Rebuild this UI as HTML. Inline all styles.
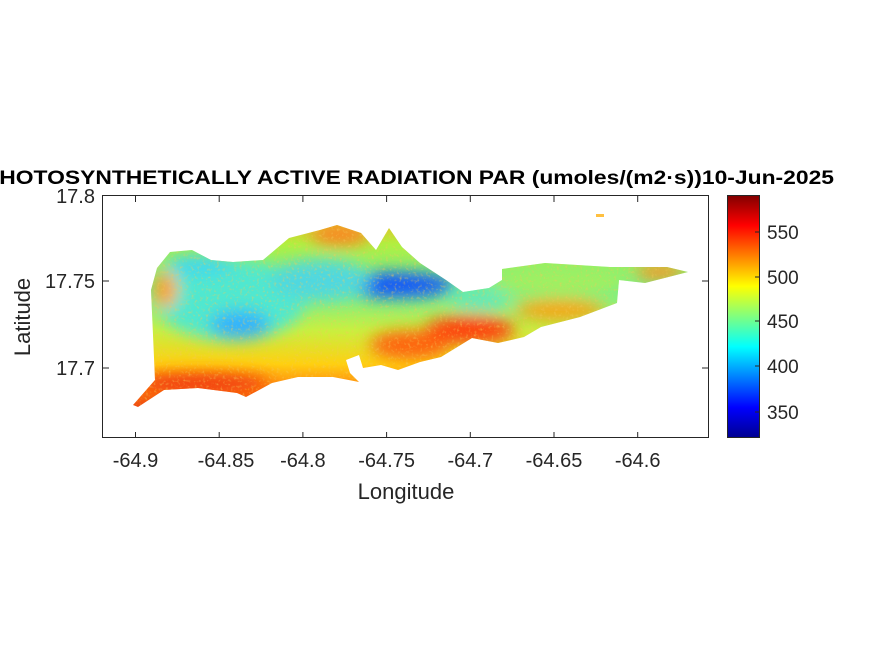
<!DOCTYPE html>
<html><head><style>body{margin:0;background:#fff}svg{display:block}text{font-family:"Liberation Sans",Arial,sans-serif;fill:#262626}</style></head>
<body>
<svg width="875" height="656" viewBox="0 0 875 656">
<defs>
<clipPath id="isl"><polygon points="133,405 155,380 151,290 157,268 170,252 192,250 211,260 233,262 263,260 289,238 320,230 337,225 361,233 376,250 389,228 402,247 420,263 446,280 463,292 489,288 502,280 502,269 545,263 610,267 667,267 688,272 645,283 619,280 617,303 580,317 541,327 524,337 498,343 472,338 441,357 420,362 398,370 381,365 363,368 359,355 346,360 350,373 359,382 333,377 298,377 272,383 246,397 237,393 198,388 164,390 138,407"/></clipPath>
<linearGradient id="cb" x1="0" y1="1" x2="0" y2="0">
<stop offset="0" stop-color="#00008f"/><stop offset="0.125" stop-color="#0000ff"/><stop offset="0.375" stop-color="#00ffff"/><stop offset="0.625" stop-color="#ffff00"/><stop offset="0.875" stop-color="#ff0000"/><stop offset="1" stop-color="#800000"/>
</linearGradient>
<linearGradient id="base" x1="0" y1="0" x2="0" y2="1">
<stop offset="0" stop-color="#e8c020"/><stop offset="0.12" stop-color="#b0f040"/><stop offset="0.35" stop-color="#70f090"/><stop offset="0.55" stop-color="#c8f040"/><stop offset="0.72" stop-color="#ffd010"/><stop offset="0.85" stop-color="#ff8010"/><stop offset="1" stop-color="#e02010"/>
</linearGradient>
<filter id="bl" x="-50%" y="-50%" width="200%" height="200%"><feGaussianBlur stdDeviation="8"/></filter>
<filter id="nz"><feTurbulence type="fractalNoise" baseFrequency="0.35" numOctaves="2" seed="3"/><feColorMatrix type="matrix" values="0 0 0 0 0.9  0 0 0 0 0.6  0 0 0 0 0.1  3 0 0 0 -1.6"/></filter>
</defs>
<g clip-path="url(#isl)">
<rect x="120" y="220" width="580" height="200" fill="url(#base)"/>
<g filter="url(#bl)">
<ellipse cx="230" cy="300" rx="75" ry="40" fill="#50e8d0"/>
<ellipse cx="200" cy="265" rx="35" ry="10" fill="#40d8f0"/>
<ellipse cx="240" cy="325" rx="30" ry="14" fill="#30b0ff"/>
<ellipse cx="395" cy="285" rx="60" ry="12" fill="#1050ff"/>
<ellipse cx="320" cy="280" rx="50" ry="20" fill="#50d8e0"/>
<ellipse cx="560" cy="282" rx="70" ry="14" fill="#a0f060"/>
<ellipse cx="480" cy="300" rx="30" ry="10" fill="#60e8c0"/>
<ellipse cx="470" cy="330" rx="45" ry="14" fill="#ff4010"/>
<ellipse cx="410" cy="345" rx="40" ry="14" fill="#ff6010"/>
<ellipse cx="560" cy="310" rx="45" ry="10" fill="#ffa010"/>
<ellipse cx="200" cy="383" rx="70" ry="9" fill="#f03010"/>
<ellipse cx="165" cy="290" rx="12" ry="18" fill="#ffa020"/>
<ellipse cx="340" cy="235" rx="30" ry="10" fill="#ff8020"/>
<ellipse cx="660" cy="272" rx="25" ry="8" fill="#ff9020"/>
</g>
<rect x="120" y="220" width="580" height="200" filter="url(#nz)" opacity="0.5"/>
</g>
<rect x="596" y="214" width="8" height="3" fill="#ffc040"/>
<rect x="102.5" y="195.5" width="606" height="242" fill="none" stroke="#262626" stroke-width="1"/>
<g stroke="#262626" stroke-width="1">
<path d="M135.5,438v-6M219.2,438v-6M302.9,438v-6M386.6,438v-6M470.3,438v-6M554,438v-6M637.7,438v-6M135.5,196v6M219.2,196v6M302.9,196v6M386.6,196v6M470.3,196v6M554,196v6M637.7,196v6"/>
<path d="M103,281h6M103,368h6M708,281h-6M708,368h-6"/>
</g>
<g font-size="20" text-anchor="middle">
<text x="135.5" y="467">-64.9</text><text x="226" y="467">-64.85</text><text x="302.9" y="467">-64.8</text><text x="386.6" y="467">-64.75</text><text x="470.3" y="467">-64.7</text><text x="554" y="467">-64.65</text><text x="637.7" y="467">-64.6</text>
</g>
<g font-size="20" text-anchor="end">
<text x="95" y="203">17.8</text><text x="95" y="288">17.75</text><text x="95" y="375">17.7</text>
</g>
<text x="406" y="499" font-size="22" text-anchor="middle">Longitude</text>
<text transform="translate(30,317) rotate(-90)" font-size="22" text-anchor="middle">Latitude</text>
<text x="-16" y="184" font-size="19" font-weight="bold" textLength="850" lengthAdjust="spacingAndGlyphs" style="fill:#000">PHOTOSYNTHETICALLY ACTIVE RADIATION PAR (umoles/(m2·s))10-Jun-2025</text>
<rect x="727" y="195" width="32" height="243" fill="url(#cb)"/>
<rect x="727.5" y="195.5" width="32" height="242" fill="none" stroke="#262626"/>
<g stroke="#262626"><path d="M759,232h-4M759,277h-4M759,321h-4M759,366h-4M759,412h-4"/></g>
<g font-size="19">
<text x="767" y="239">550</text><text x="767" y="284">500</text><text x="767" y="328">450</text><text x="767" y="373">400</text><text x="767" y="419">350</text>
</g>
</svg>
</body></html>
